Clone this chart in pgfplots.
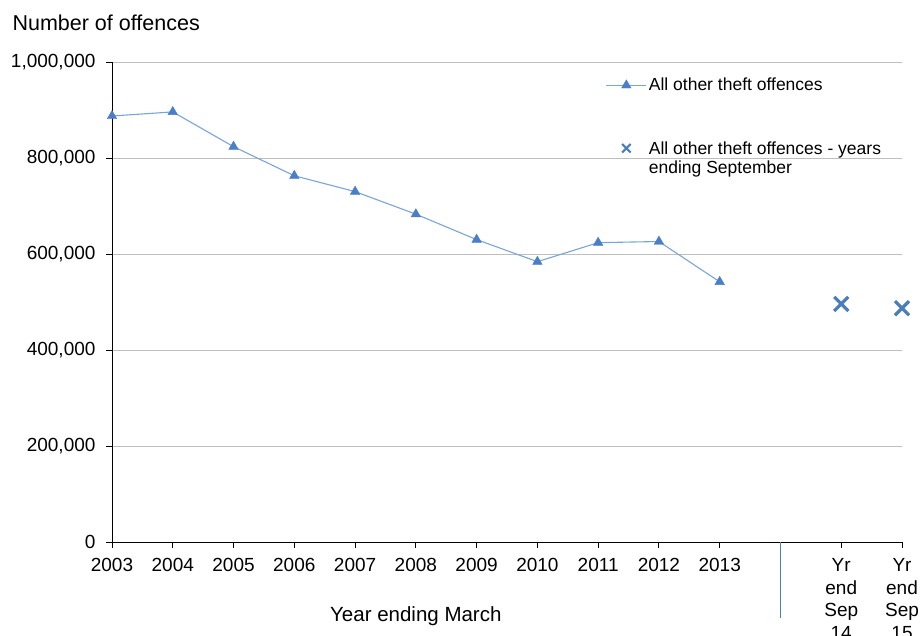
\documentclass[border=0pt]{standalone}
\usepackage{pgfplots}
\pgfplotsset{compat=1.18}
\usepackage{fontspec}
\setmainfont{Liberation Sans}
\definecolor{lineblue}{RGB}{120,165,222}
\definecolor{markblue}{RGB}{74,126,200}
\definecolor{crossblue}{RGB}{74,126,187}
\definecolor{gridgray}{RGB}{190,190,190}
\pgfplotsset{
  lineleg/.style={legend image code/.code={\draw[mark repeat=2,mark phase=2,##1] plot coordinates {(0pt,0pt)(20pt,0pt)(40pt,0pt)};}},
  crossleg/.style={legend image code/.code={\draw[##1, mark size=6pt, mark options={line width=2.2pt}] plot coordinates {(20pt,10pt)};}},
}
\begin{document}
\begin{tikzpicture}
\begin{axis}[
  name=ax,
  scale only axis,
  width=790pt, height=480pt,
  xmin=0, xmax=13, ymin=0, ymax=1000000,
  axis x line*=bottom, axis y line*=left,
  axis line style={black, line width=0.9pt, -},
  xtick={0,...,13},
  xticklabels={2003,2004,2005,2006,2007,2008,2009,2010,2011,2012,2013,{},{Yr\\end\\Sep\\14},{Yr\\end\\Sep\\15}},
  xticklabel style={align=center, font=\fontsize{19}{22.5}\selectfont, anchor=north, yshift=-7pt},
  ytick={0,200000,400000,600000,800000,1000000},
  yticklabel style={font=\fontsize{19}{22}\selectfont, xshift=-7pt, /pgf/number format/fixed, /pgf/number format/1000 sep={,}, /pgf/number format/assume math mode=true},
  scaled y ticks=false,
  tick align=outside,
  major tick length=6pt,
  tick style={black, line width=0.9pt},
  ymajorgrids,
  grid style={gridgray, line width=0.9pt},
  clip=false,
  legend style={at={(rel axis cs:0.621,0.975)}, anchor=north west, draw=none, fill=none,
    font=\fontsize{17.5}{19.5}\selectfont, row sep=45pt, cells={align=left},
    /tikz/every even column/.append style={column sep=3pt}},
  legend cell align=left,
]
\addplot[color=lineblue, line width=1.1pt, mark=triangle*, mark size=5.5pt,
  mark options={fill=markblue, draw=markblue, line width=0.4pt}, lineleg]
  coordinates {
  (0,887500) (1,896000) (2,823600) (3,763000) (4,730000) (5,683000)
  (6,630000) (7,584000) (8,623600) (9,626000) (10,542000)
  };
\addlegendentry{All other theft offences}
\addplot[only marks, mark=x, mark size=10pt, color=crossblue,
  mark options={line width=3.2pt}, crossleg]
  coordinates {(12,496000) (13,487000)};
\addlegendentry{All other theft offences - years\\ending September}
\draw[crossblue, line width=1pt] (axis cs:11,0) -- ++(0,-76pt);
\node[anchor=base west, font=\fontsize{21.5}{24}\selectfont] at ([xshift=-103pt, yshift=31pt]rel axis cs:0,1) {Number of offences};
\node[anchor=base, font=\fontsize{20.5}{22}\selectfont] at ([yshift=-80pt]axis cs:5,0) {Year ending March};
\end{axis}
\pgfresetboundingbox
\path[use as bounding box] (ax.south west) ++(-112pt,-94pt) rectangle ++(920pt,636pt);
\end{tikzpicture}
\end{document}
